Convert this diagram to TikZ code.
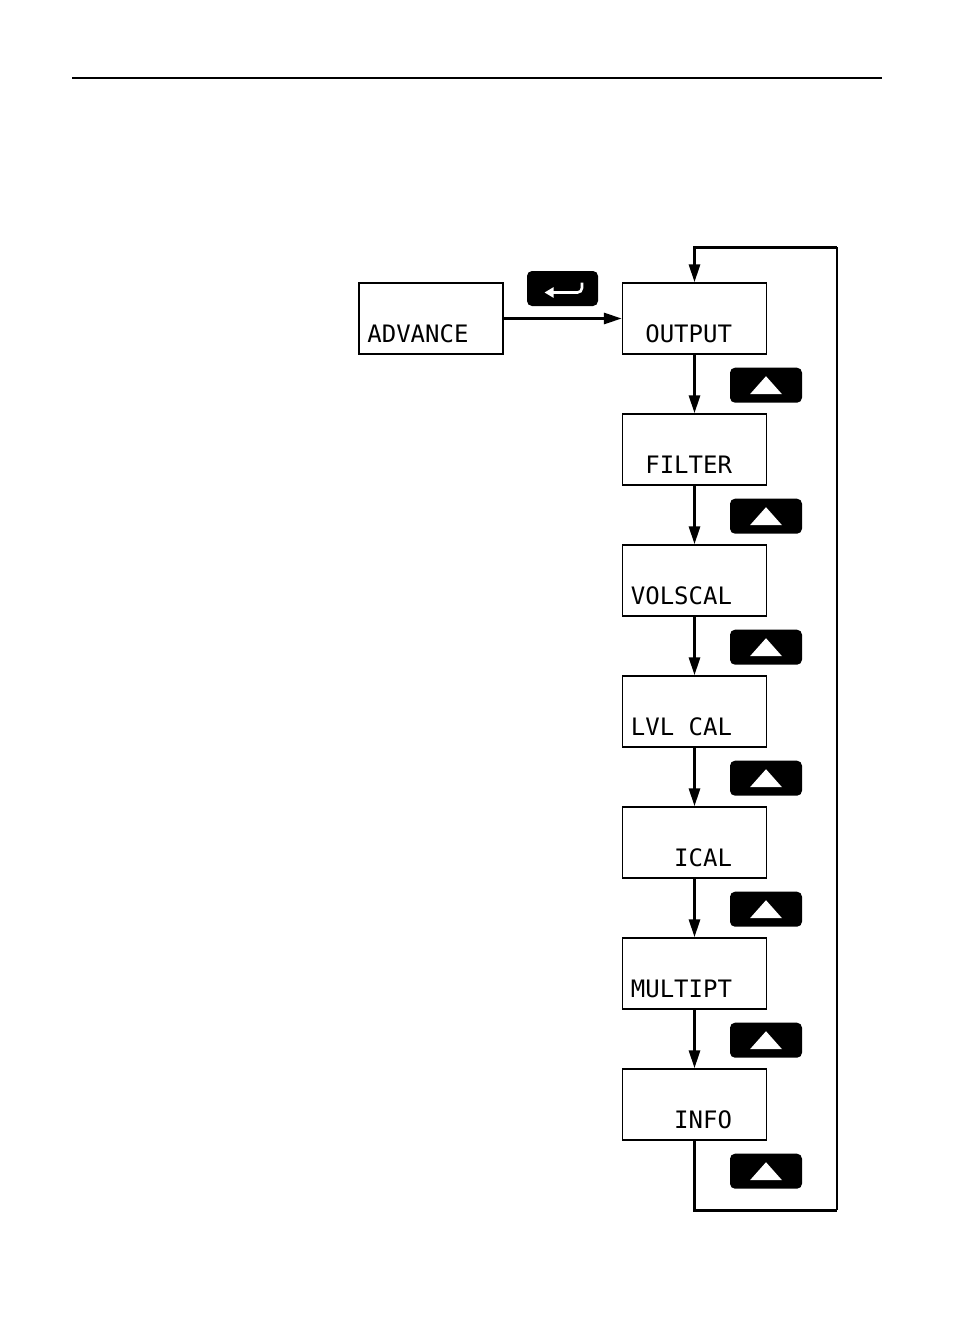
\documentclass[tikz,border=0pt]{standalone}
\usepackage{fontspec}
\newfontfamily\lcd{DejaVu Sans Mono}
\usetikzlibrary{arrows.meta}
\tikzset{
  menubox/.style={draw, line width=1.4pt, minimum width=144pt, minimum height=71pt, inner sep=0pt},
  lcdtext/.style={anchor=base east, inner sep=0pt, font=\lcd\fontsize{24}{24}\selectfont},
  btn/.style={fill=black, rounded corners=5pt, minimum width=72pt, minimum height=35pt, inner sep=0pt},
  flow/.style={line width=3pt, -{Triangle[length=18pt,width=11pt]}},
  loopline/.style={line width=3pt},
  thinloop/.style={line width=1.8pt},
  uptri/.style={fill=white, draw=none}
}
\begin{document}
\begin{tikzpicture}[x=1pt,y=-1pt]
\useasboundingbox (0,0) rectangle (954,1336);
% header rule
\coordinate (r1) at (72,78);
\coordinate (r2) at (882,78);
\draw[line width=1.4pt] (r1) -- (r2);

% boxes
\node[menubox] (advance) at (431,318.5) {};
\node[lcdtext] (tadvance) at ([shift={(-35,-12)}]advance.south east) {ADVANCE};
\foreach \name/\txt/\k in {output/OUTPUT/0, filter/FILTER/1, volscal/VOLSCAL/2, lvlcal/LVL CAL/3, ical/ICAL/4, multipt/MULTIPT/5, info/INFO/6}{
  \node[menubox] (\name) at (694.5,318.5+131*\k) {};
  \node[lcdtext] (t\name) at ([shift={(-35,-12)}]\name.south east) {\txt};
}

% enter button
\node[btn, minimum width=71pt] (enter) at (562.5,288.5) {};
\draw[white, line width=2.6pt, rounded corners=4.5pt, -{Triangle[length=9pt,width=10pt]}]
  ([shift={(19.5,-6)}]enter.center) -- ([shift={(19.5,4)}]enter.center) -- ([shift={(-18,4)}]enter.center);

% up buttons
\foreach \name in {output, filter, volscal, lvlcal, ical, multipt, info}{
  \node[btn] (up\name) at ([shift={(71.5,30.5)}]\name.south) {};
  \fill[uptri] ([shift={(-16,9)}]up\name.center) -- ([shift={(16,9)}]up\name.center) -- ([shift={(0,-9)}]up\name.center) -- cycle;
}

% connectors
\draw[flow] (advance.east) -- (output.west);
\draw[flow] (output.south) -- (filter.north);
\draw[flow] (filter.south) -- (volscal.north);
\draw[flow] (volscal.south) -- (lvlcal.north);
\draw[flow] (lvlcal.south) -- (ical.north);
\draw[flow] (ical.south) -- (multipt.north);
\draw[flow] (multipt.south) -- (info.north);

% loop back
\coordinate (lb) at (837,1210);
\coordinate (lt) at (837,247);
\draw[loopline] (info.south) |- (lb);
\draw[thinloop] (lb) -- (lt);
\draw[flow] (lt) -| (output.north);
\end{tikzpicture}
\end{document}
